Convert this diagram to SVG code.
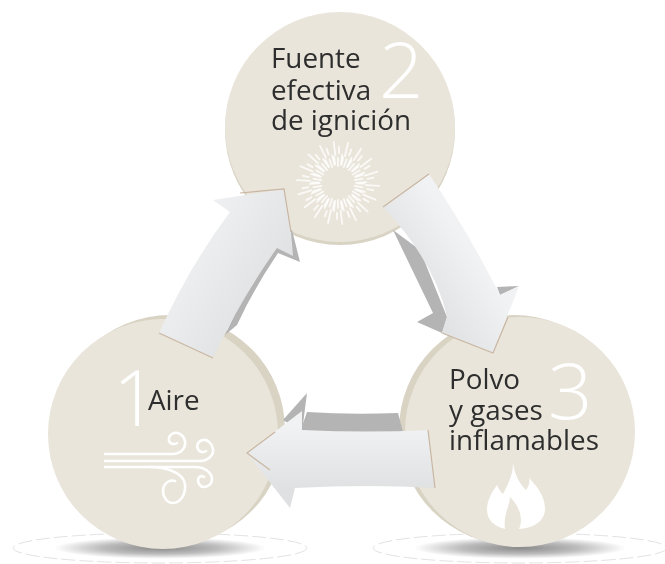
<svg xmlns="http://www.w3.org/2000/svg" width="665" height="564" viewBox="0 0 665 564">
<style>
.label{font-family:"Open Sans","Noto Sans","Liberation Sans",sans-serif;font-size:27.8px;fill:#2e2e2e}
.num{font-family:"Open Sans","Noto Sans","Liberation Sans",sans-serif;font-weight:300;font-size:78px;fill:#fff}
.base{fill:#d9d3c4}.face{fill:#e9e5da}
.wind{fill:none;stroke:#fff;stroke-width:2.6;stroke-linecap:round}
.ray{stroke:#fff;stroke-width:1.8;stroke-linecap:round;opacity:.8}
.dark{fill:#b4b4b4}
.edge{fill:none;stroke:#c9b6a2;stroke-width:1.2}
.pool{stroke:#e2e2e2;stroke-width:1;stroke-dasharray:14 4}
</style>
<defs>
<radialGradient id="pool" cx="50%" cy="50%" r="50%">
<stop offset="0" stop-color="#8a8a8a"/><stop offset=".4" stop-color="#bdbdbd"/><stop offset=".72" stop-color="#fff"/><stop offset="1" stop-color="#fff"/>
</radialGradient>
<linearGradient id="g1" x1="170" y1="250" x2="270" y2="310" gradientUnits="userSpaceOnUse"><stop offset="0" stop-color="#f1f2f3"/><stop offset="1" stop-color="#dfe0e2"/></linearGradient>
<linearGradient id="g2" x1="470" y1="250" x2="410" y2="290" gradientUnits="userSpaceOnUse"><stop offset="0" stop-color="#f1f2f3"/><stop offset="1" stop-color="#dfe0e2"/></linearGradient>
<linearGradient id="g3" x1="340" y1="425" x2="340" y2="492" gradientUnits="userSpaceOnUse"><stop offset="0" stop-color="#f1f2f3"/><stop offset="1" stop-color="#dfe0e2"/></linearGradient>
<g id="rays">
<line class="ray" x1="0" y1="-17" x2="0" y2="-25"/>
<line class="ray" x1="3" y1="-18" x2="4" y2="-28"/>
<line class="ray" x1="-3" y1="-19" x2="-4" y2="-26"/>
<line class="ray" x1="7" y1="-27" x2="10" y2="-40"/>
<line class="ray" x1="1" y1="-30" x2="1" y2="-36"/>
</g>
<filter id="soft" x="-2%" y="-2%" width="104%" height="104%"><feGaussianBlur stdDeviation="0.45"/></filter>
</defs>
<g filter="url(#soft)">
<g id="shadows">
<ellipse class="pool" cx="160" cy="548" rx="147" ry="15" fill="url(#pool)"/>
<ellipse class="pool" cx="520" cy="548" rx="147" ry="15" fill="url(#pool)"/>
</g>
<g id="node-2">
<circle class="base" cx="340" cy="130" r="115"/>
<circle class="face" cx="340" cy="127" r="115"/>
<text class="num" x="379" y="98">2</text>
<text class="label"><tspan x="271" y="68">Fuente</tspan><tspan x="271" y="100">efectiva</tspan><tspan x="271" y="130">de ignición</tspan></text>
<g id="burst" transform="translate(338 183)">
<use href="#rays"/><use href="#rays" transform="rotate(20)"/><use href="#rays" transform="rotate(40)"/><use href="#rays" transform="rotate(60)"/><use href="#rays" transform="rotate(80)"/><use href="#rays" transform="rotate(100)"/><use href="#rays" transform="rotate(120)"/><use href="#rays" transform="rotate(140)"/><use href="#rays" transform="rotate(160)"/><use href="#rays" transform="rotate(180)"/><use href="#rays" transform="rotate(200)"/><use href="#rays" transform="rotate(220)"/><use href="#rays" transform="rotate(240)"/><use href="#rays" transform="rotate(260)"/><use href="#rays" transform="rotate(280)"/><use href="#rays" transform="rotate(300)"/><use href="#rays" transform="rotate(320)"/><use href="#rays" transform="rotate(340)"/>
</g>
</g>
<g id="node-1">
<circle class="base" cx="170" cy="430" r="115"/>
<circle class="face" cx="163" cy="434" r="115"/>
<text class="num" x="113" y="426">1</text>
<text class="label" x="148" y="410">Aire</text>
<g id="wind">
<path class="wind" d="M105,454H172C182,454 186,447 185,441C184,435 178,432 174,433C170,434 168,438 169,441C170,444 174,445 177,443"/>
<path class="wind" d="M105,461H200C208,461 214,455 213,449C212,443 207,439 203,440C198,441 196,446 198,449C199,452 203,453 206,451"/>
<path class="wind" d="M105,467H195C205,467 212,473 212,479C212,484 208,487 204,487C200,487 198,483 198,480C198,477 201,475 204,477"/>
<path class="wind" d="M150,467C165,467 183,472 185,484C186,495 180,503 173,503C167,503 163,497 163,491C163,484 169,479 175,481"/>
</g>
</g>
<g id="node-3">
<circle class="base" cx="514" cy="430" r="115"/>
<circle class="face" cx="520" cy="432" r="115"/>
<text class="num" x="548" y="419">3</text>
<text class="label"><tspan x="449" y="389">Polvo</tspan><tspan x="449" y="420">y gases</tspan><tspan x="449" y="450">inflamables</tspan></text>
<path id="flame" fill="#fff" d="M513,463C515,476 520,484 526,490C529,486 530,482 529,478C538,487 545,497 545,509C545,520 535,528 519,529C523,520 521,508 510,497C510,506 503,514 505,529C494,526 487,520 487,510C487,500 492,492 497,485C499,490 501,492 503,494C507,486 513,476 513,463Z"/>
</g>
<g id="connectors">
<g id="arrow-1-2">
<path class="dark" d="M225,335L237,325Q253,290 278,253L300,262L292,230L270,240Z"/>
<path fill="url(#g1)" d="M159,333Q190,265 230,212L213,200L284,189L291,232L293,256L277,248Q240,300 213,358Z"/>
<path class="edge" d="M213,358L159,333M240,193L284,189L291,232"/>
</g>
<g id="arrow-2-3">
<path class="dark" d="M393,230L433,313L417,322L442,333L447,317L420,250Z"/>
<path class="dark" d="M497,287L519,286L500,295Z"/>
<path fill="url(#g2)" d="M383,207L429,174Q468,232 500,295L519,286L493,353L442,333L447,317Q435,262 383,207Z"/>
<path class="edge" d="M383,207L429,174M508,317L493,353L442,333"/>
</g>
<g id="arrow-3-1">
<path class="dark" d="M307,412Q350,415 398,413L403,432L300,432Z"/>
<path class="dark" d="M283,420L307,393L302,432Z"/>
<path fill="url(#g3)" d="M428,430L435,488Q370,484 295,488L290,508L247,453L302,411L302,430Q370,433 428,430Z"/>
<path class="edge" d="M428,430L435,488M270,470L247,453L275,432"/>
</g>
</g>
</g>
</svg>
